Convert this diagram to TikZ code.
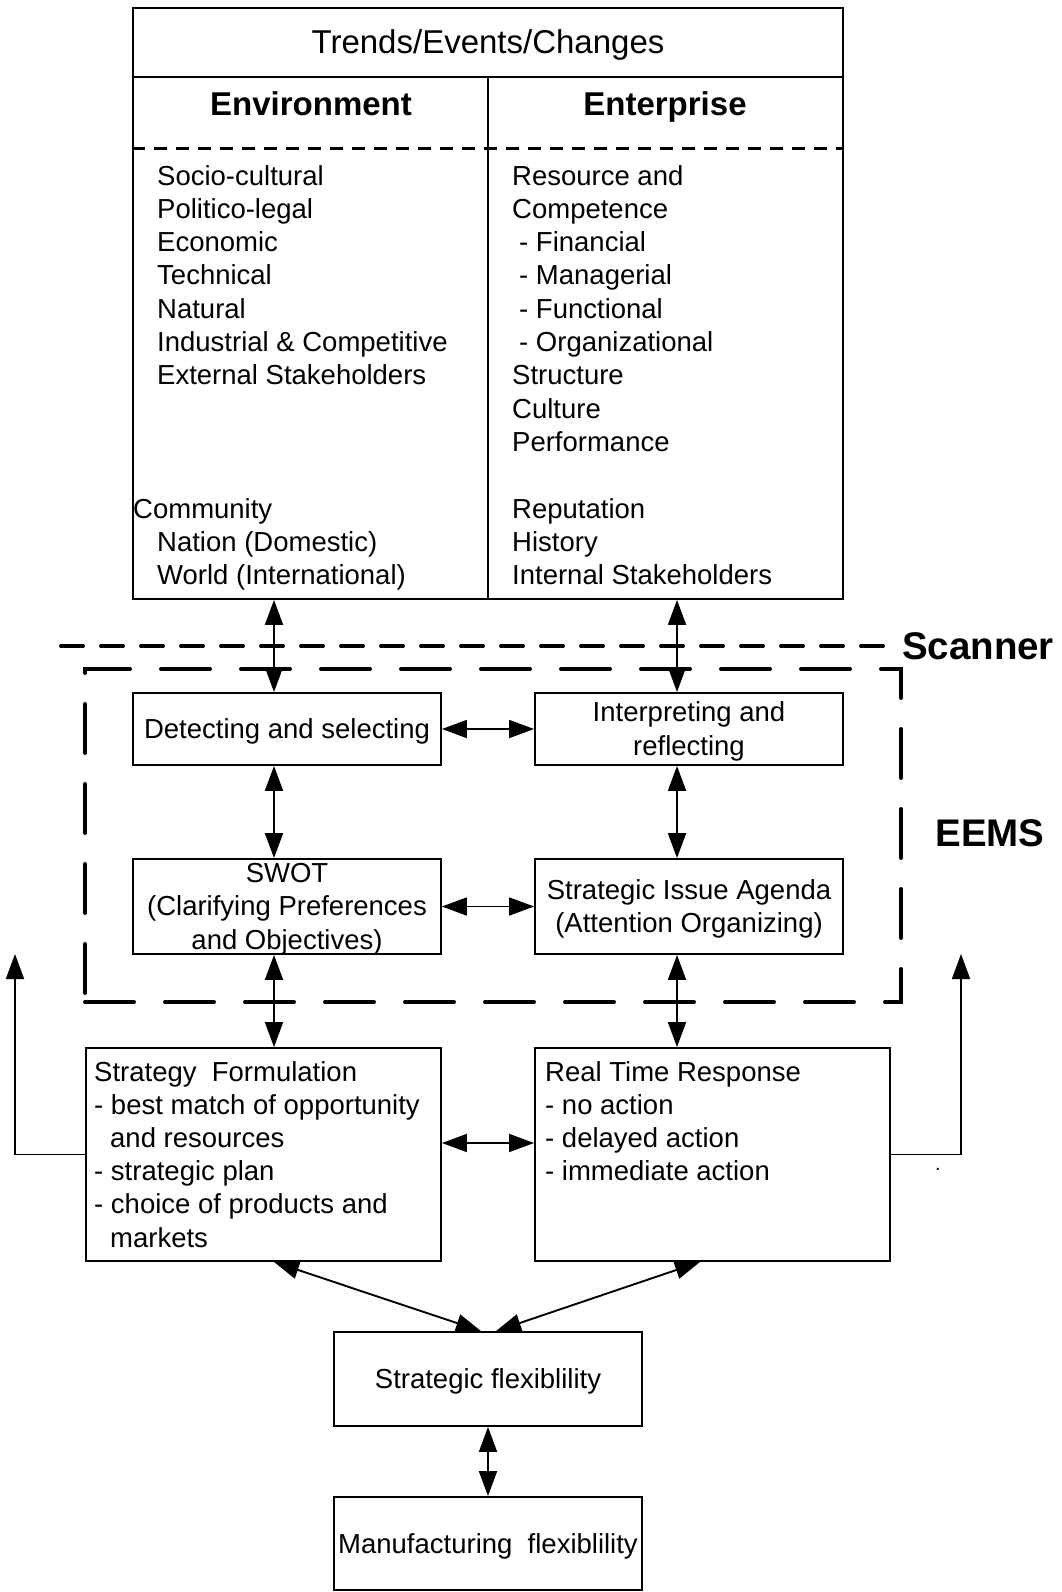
\documentclass[tikz,border=0pt]{standalone}
\usepackage{fontspec}
\setmainfont{Liberation Sans}
\usetikzlibrary{arrows.meta}
\begin{document}
\begin{tikzpicture}[x=1pt,y=-1pt,
  box/.style={draw, line width=1.9pt, inner sep=0pt},
  txt/.style={font=\fontsize{27.5}{33.3}\selectfont, inner sep=0pt},
  ctxt/.style={txt, align=center, yshift=-2.5pt},
  ln/.style={txt, anchor=base west},
  head/.style={font=\fontsize{33}{40}\selectfont, inner sep=0pt, anchor=base},
  big/.style={font=\fontsize{38.5}{46}\selectfont\bfseries, inner sep=0pt},
  dbl/.style={line width=1.9pt, {Triangle[length=25pt,width=18pt]}-{Triangle[length=25pt,width=18pt]}},
  sgl/.style={line width=1.9pt, -{Triangle[length=25pt,width=18pt]}},
  scandash/.style={line width=4pt, line cap=round, dash pattern=on 22pt off 18pt},
  eemsdash/.style={line width=4pt, line cap=round, dash pattern=on 49pt off 31pt},
  topdash/.style={line width=3pt, dash pattern=on 13pt off 9pt}
]
\useasboundingbox (0,0) rectangle (1061,1592);

% ---------- top box ----------
\node[box, minimum width=710pt, minimum height=591pt] (topbox) at (488,303.5) {};
\draw[line width=1.9pt] (topbox.north west) ++(0,70) -- ++(710,0);
\draw[line width=1.9pt] (topbox.north) ++(0,70) -- (topbox.south);
\draw[topdash] (topbox.north west) ++(0,141) -- ++(710,0);
\node[head] (title) at (488,54) {Trends/Events/Changes};
\node[head, font=\fontsize{33}{40}\selectfont\bfseries] (env) at (311,116) {Environment};
\node[head, font=\fontsize{33}{40}\selectfont\bfseries] (ent) at (665,116) {Enterprise};

\foreach \i/\t in {0/Socio-cultural,1/Politico-legal,2/Economic,3/Technical,4/Natural,5/Industrial \& Competitive,6/External Stakeholders,11/Nation (Domestic),12/World (International)}
  \node[ln] (L\i) at (157,185+33.3*\i) {\t};
\node[ln] (L10) at (133,185+33.3*10) {Community};

\foreach \i/\t in {0/Resource and,1/Competence,6/Structure,7/Culture,8/Performance,10/Reputation,11/History,12/Internal Stakeholders}
  \node[ln] (R\i) at (512,185+33.3*\i) {\t};
\foreach \i/\t in {2/- Financial,3/- Managerial,4/- Functional,5/- Organizational}
  \node[ln] (R\i) at (519,185+33.3*\i) {\t};

% ---------- scanner / EEMS ----------
\coordinate (scanL) at (61,646);
\coordinate (scanR) at (892,646);
\draw[scandash] (scanL) -- (scanR);
\node[big] (scanner) at (978,646) {Scanner};
\node[draw, eemsdash, inner sep=0pt, minimum width=816pt, minimum height=333pt] (eems) at (493,835.5) {};
\node[big] (eemslbl) at (990,833) {EEMS};

% ---------- inner boxes ----------
\node[box, minimum width=308pt, minimum height=72pt] (det) at (287,729) {};
\node[box, minimum width=308pt, minimum height=72pt] (intp) at (689,729) {};
\node[box, minimum width=308pt, minimum height=95pt] (swot) at (287,906.5) {};
\node[box, minimum width=308pt, minimum height=95pt] (sia) at (689,906.5) {};
\node[ctxt] (dett) at (det.center) {Detecting and selecting};
\node[ctxt] (intpt) at (intp.center) {Interpreting and\\reflecting};
\node[ctxt] (swott) at (swot.center) {SWOT\\(Clarifying Preferences\\and Objectives)};
\node[ctxt] (siat) at (sia.center) {Strategic Issue Agenda\\(Attention Organizing)};

% ---------- response boxes ----------
\node[box, minimum width=355pt, minimum height=213pt] (sf) at (263.5,1154.5) {};
\node[box, minimum width=355pt, minimum height=213pt] (rtr) at (712.5,1154.5) {};
\node[ln] (sf0) at (94,1081) {Strategy~ Formulation};
\node[ln] (sf1) at (94,1114) {- best match of opportunity};
\node[ln] (sf2) at (110,1147) {and resources};
\node[ln] (sf3) at (94,1180) {- strategic plan};
\node[ln] (sf4) at (94,1213) {- choice of products and};
\node[ln] (sf5) at (110,1247) {markets};
\node[ln] (rt0) at (545,1081) {Real Time Response};
\node[ln] (rt1) at (545,1114) {- no action};
\node[ln] (rt2) at (545,1147) {- delayed action};
\node[ln] (rt3) at (545,1180) {- immediate action};
\node[font=\fontsize{20}{24}\selectfont, inner sep=0pt, anchor=base] (dot) at (938,1170) {.};

% ---------- flexibility boxes ----------
\node[box, minimum width=308pt, minimum height=94pt] (sflex) at (488,1379) {};
\node[box, minimum width=308pt, minimum height=93pt] (mflex) at (488,1543.5) {};
\node[ctxt] (sflext) at (sflex.center) {Strategic flexiblility};
\node[ctxt] (mflext) at (mflex.center) {Manufacturing~ flexiblility};

% ---------- connectors ----------
\coordinate (lx) at (274,0);
\coordinate (rx) at (677,0);
\draw[dbl] (lx |- topbox.south) -- (lx |- det.north);
\draw[dbl] (rx |- topbox.south) -- (rx |- intp.north);
\draw[dbl] (lx |- det.south) -- (lx |- swot.north);
\draw[dbl] (rx |- intp.south) -- (rx |- sia.north);
\draw[dbl] (lx |- swot.south) -- (lx |- sf.north);
\draw[dbl] (rx |- sia.south) -- (rx |- rtr.north);
\draw[dbl] (det.east) -- (intp.west);
\draw[dbl] (swot.east) -- (sia.west);
\draw[dbl] (sf.east |- 0,1143) -- (rtr.west |- 0,1143);
\draw[dbl] (lx |- sf.south) -- ([xshift=-7pt]sflex.north);
\draw[dbl] ([xshift=-12.5pt]rtr.south) -- ([xshift=8pt]sflex.north);
\draw[dbl] (sflex.south) -- (mflex.north);
\coordinate (fbL) at (15,954);
\coordinate (fbR) at (961,954);
\draw[sgl] (sf.west) -- (sf.west -| fbL) -- (fbL);
\draw[sgl] (rtr.east) -- (rtr.east -| fbR) -- (fbR);
\end{tikzpicture}
\end{document}
